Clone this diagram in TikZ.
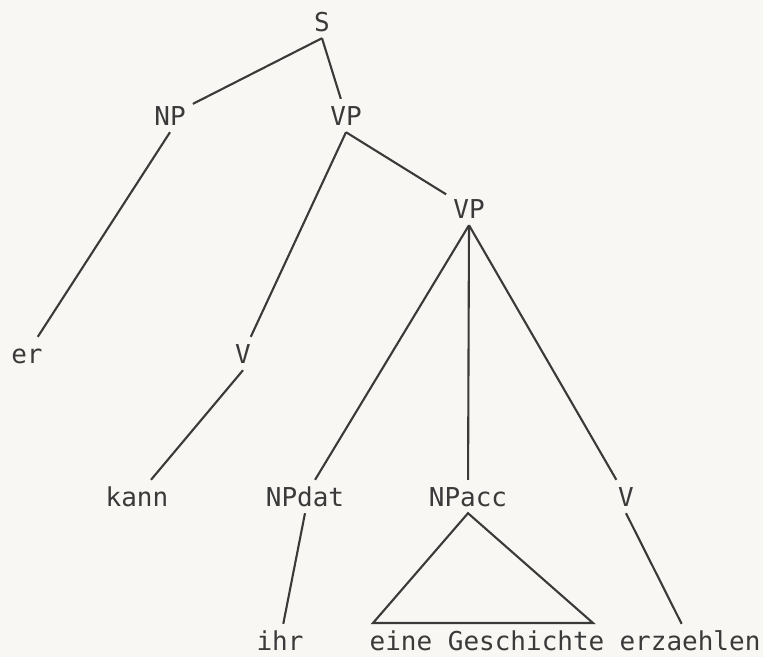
\documentclass[tikz,border=0pt]{standalone}
\usepackage{fontspec}
\setmonofont{DejaVu Sans Mono}
\definecolor{ink}{RGB}{58,58,58}
\definecolor{paper}{RGB}{248,247,243}
\tikzset{
  cat/.style={font=\ttfamily\fontsize{26}{30}\selectfont, text=ink, anchor=base,
    text height=19pt, text depth=0pt, inner sep=7pt},
  branch/.style={draw=ink, line width=2.1pt}
}

\begin{document}
\begin{tikzpicture}[x=1pt,y=-1pt]
        \useasboundingbox (0,0) rectangle (763,657);
        \fill [paper] (0,0) rectangle (763,657);
        % categories
        \node [cat] (s) at (322,31) {S};
        \node [cat] (np) at (170,125) {NP};
        \node [cat] (vp) at (346,125) {VP};
        \node [cat] (vpb) at (469,218) {VP};
        \node [cat] (er) at (27,363) {er};
        \node [cat] (v) at (243,363) {V};
        \node [cat] (kann) at (137,506) {kann};
        \node [cat] (npdat) at (305,506) {NPdat};
        \node [cat] (npacc) at (468,506) {NPacc};
        \node [cat] (vb) at (626,506) {V};
        \node [cat] (ihr) at (280,650) {ihr};
        \node [cat] (gesch) at (487,650) {eine Geschichte};
        \node [cat] (erz) at (690,650) {erzaehlen};
        \coordinate (tl) at (373,623);
        \coordinate (tr) at (593,623);
        % branches
        \draw [branch] (s.south) -- (np);
        \draw [branch] (s.south) -- (vp);
        \draw [branch] (np.south) -- (er);
        \draw [branch] (vp.south) -- (v);
        \draw [branch] (vp.south) -- (vpb);
        \draw [branch] (v.south) -- (kann);
        \draw [branch] (vpb.south) -- (npdat);
        \draw [branch] (vpb.south) -- (npacc);
        \draw [branch] (vpb.south) -- (vb);
        \draw [branch] (npdat.south) -- (ihr);
        \draw [branch] (vb.south) -- (erz);
        \draw [branch] (npacc.south) -- (tl) -- (tr) -- cycle;
\end{tikzpicture}
\end{document}
